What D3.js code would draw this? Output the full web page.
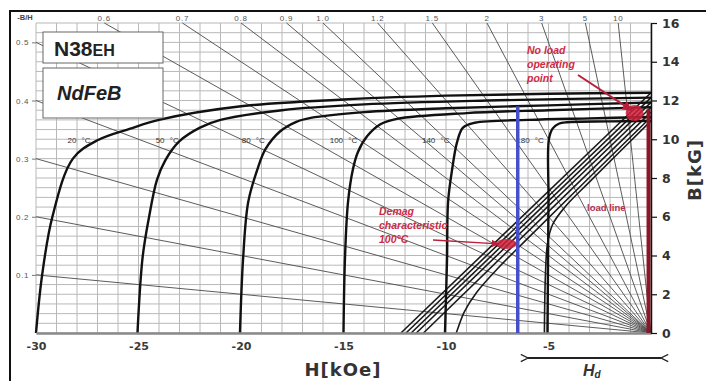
<!DOCTYPE html>
<html><head><meta charset="utf-8">
<script src="https://cdn.jsdelivr.net/npm/d3@7"></script>
<style>
body{margin:0;background:#fff}
svg{display:block}
</style>
</head><body>
<svg id="c" width="706" height="381"></svg>
<script>
// ---- Data -------------------------------------------------------------
const hTicks = [-30, -25, -20, -15, -10, -5];
const bTicks = [0, 2, 4, 6, 8, 10, 12, 14, 16];
const permLeft = [0.1, 0.2, 0.3, 0.4, 0.5];            // -B/H lines ending on the left edge
const permTop = [0.6, 0.7, 0.8, 0.9, 1.0, 1.2, 1.5, 2, 3, 5, 10]; // -B/H lines ending on the top edge
const permTopLabels = ["0.6", "0.7", "0.8", "0.9", "1.0", "1.2", "1.5", "2", "3", "5", "10"];
const tempLabels = ["20 °C", "50 °C", "80 °C", "100 °C", "140 °C", "180 °C"];

// intrinsic curves J(H), [H kOe, B kG]
const j20  = [[-30,0],[-29.7,3.0],[-29.2,6.0],[-28.2,9.0],[-27.0,9.95],[-25.4,10.55],[-24,11.0],[-20,11.7],[-15,12.05],[-10,12.25],[-5,12.35],[0,12.4]];
const j50  = [[-25.05,0],[-24.8,3.9],[-24.5,5.9],[-24.1,7.9],[-23.7,8.9],[-23.0,9.9],[-22.0,10.6],[-21.0,11.0],[-18,11.5],[-14,11.8],[-8,12.0],[0,12.15]];
const j80  = [[-20.05,0],[-19.9,3.8],[-19.65,6.75],[-19.2,8.45],[-18.8,9.5],[-18.1,10.4],[-17.3,10.9],[-16.6,11.1],[-14,11.4],[-10,11.6],[-5,11.75],[0,11.9]];
const j100 = [[-15.0,0],[-14.93,3.8],[-14.78,6.75],[-14.54,8.45],[-14.3,9.33],[-13.85,10.15],[-13.2,10.77],[-12.4,11.05],[-9,11.35],[-5,11.5],[0,11.65]];
const j140 = [[-10.05,0],[-9.95,3.8],[-9.9,6.75],[-9.7,8.45],[-9.46,9.85],[-9.17,10.6],[-8.6,10.85],[-6,11.0],[-3,11.08],[0,11.15]];
const j180 = [[-5.05,0],[-5.0,6.9],[-4.98,10.0],[-4.8,10.55],[-4.5,10.8],[-4.1,10.88],[-2,10.92],[0,10.95]];

// normal curves B(H)
const b1 = [[-12.2,0],[0,12.4]];
const b2 = [[-11.95,0],[0,12.15]];
const b3 = [[-11.7,0],[0,11.9]];
const b4 = [[-11.45,0],[0,11.65]];
const b5 = [[-11.1,0],[0,11.4]];
const b6 = [[-9.5,0],[-9.4,0.3],[-9.1,1.1],[-8.5,2.1],[-7.5,3.3],[-6,4.9],[0,11.15]];
const b7 = [[-5.2,0],[-5.15,3.0],[-5.05,4.6],[-4.8,5.6],[-4.2,6.5],[-3,7.8],[0,10.95]];

// working line (blue) and operating points
const workH = -6.5, workTopB = 11.7;
const loadLineH = -0.12, loadLineTopB = 11.55;
const noLoadPoint = [-0.8, 11.35];
const demagPoint = [-7.05, 4.6];

// ---- Layout -----------------------------------------------------------
const svg = d3.select("#c");
const x = d3.scaleLinear().domain([-30, 0]).range([36, 651]);
const y = d3.scaleLinear().domain([0, 16]).range([333, 23]);
const yP = d3.scaleLinear().domain([0, 16 / 30]).range([333, 23]);
const line = d3.line().x(d => x(d[0])).y(d => y(d[1])).curve(d3.curveCatmullRom.alpha(0.5));

const SANS = "'Liberation Sans', Arial, sans-serif";
const BOLD = "'DejaVu Sans', Verdana, sans-serif";

// outer frame
svg.append("rect").attr("x", 10).attr("y", 11).attr("width", 710).attr("height", 390)
  .attr("fill", "none").attr("stroke", "#111").attr("stroke-width", 2);

// grid
const grid = svg.append("g").attr("stroke", "#b8b8b8").attr("stroke-width", 1);
grid.selectAll("line.v").data(d3.range(-30, 0.001, 1)).join("line")
  .attr("x1", d => x(d)).attr("x2", d => x(d)).attr("y1", y(0)).attr("y2", y(16));
grid.selectAll("line.h").data(d3.range(0, 16.001, 0.5)).join("line")
  .attr("y1", d => y(d)).attr("y2", d => y(d)).attr("x1", x(-30)).attr("x2", x(0));

// permeance (-B/H) lines from the origin
const perm = permLeft.concat(permTop);
svg.append("g").attr("stroke", "#4a4a4a").attr("stroke-width", 0.9)
  .selectAll("line").data(perm).join("line")
  .attr("x1", x(0)).attr("y1", y(0))
  .attr("x2", p => 30 * p <= 16 ? x(-30) : x(-16 / p))
  .attr("y2", p => 30 * p <= 16 ? y(30 * p) : y(16));

// top labels of permeance lines
svg.append("g").selectAll("text").data(permTop).join("text")
  .attr("x", p => x(-16 / p)).attr("y", 21)
  .attr("text-anchor", "middle").attr("font-family", SANS).attr("font-size", 8)
  .attr("letter-spacing", 0.8).attr("fill", "#555")
  .text((p, i) => permTopLabels[i]);
svg.append("text").attr("x", 25).attr("y", 20).attr("text-anchor", "middle")
  .attr("font-family", SANS).attr("font-size", 7.5).attr("font-weight", "bold").attr("fill", "#444").text("-B/H");

// left axis (-B/H at H = -30)
const leftAxis = svg.append("g").attr("transform", `translate(${x(-30)},0)`)
  .call(d3.axisLeft(yP).tickValues(permLeft).tickSize(4).tickPadding(3).tickFormat(d3.format(".1f")));
leftAxis.select(".domain").remove();
leftAxis.selectAll(".tick line").attr("stroke", "#777");
leftAxis.selectAll("text").attr("font-family", SANS).attr("font-size", 8).attr("fill", "#555").attr("letter-spacing", 0.6);

// temperature labels
const tempLabelH = [-27.9, -23.6, -19.4, -15.0, -10.5, -5.9];
svg.append("g").selectAll("text").data(tempLabels).join("text")
  .attr("x", (t, i) => x(tempLabelH[i])).attr("y", y(9.95) + 3)
  .attr("text-anchor", "middle").attr("font-family", SANS).attr("font-size", 8)
  .attr("word-spacing", 3).attr("fill", "#333").text(t => t);

// normal curves
svg.append("g").attr("fill", "none").attr("stroke", "#1a1a1a").attr("stroke-width", 1.6)
  .selectAll("path").data([b1, b2, b3, b4, b5, b6, b7]).join("path").attr("d", line);

// intrinsic curves
svg.append("g").attr("fill", "none").attr("stroke", "#111").attr("stroke-width", 2.4)
  .selectAll("path").data([j20, j50, j80, j100, j140, j180]).join("path").attr("d", line);

// bottom axis
const bottomAxis = svg.append("g").attr("transform", `translate(0,${y(0)})`)
  .call(d3.axisBottom(x).tickValues(hTicks).tickSize(0).tickPadding(9).tickFormat(d => String(d)));
bottomAxis.select(".domain").attr("stroke", "#8a8a8a").attr("stroke-width", 2.5);
bottomAxis.selectAll("text").attr("font-family", BOLD).attr("font-size", 11).attr("font-weight", "bold").attr("fill", "#3a3a3a");

// working line
svg.append("line").attr("x1", x(workH)).attr("x2", x(workH)).attr("y1", y(0)).attr("y2", y(workTopB))
  .attr("stroke", "#4550c8").attr("stroke-width", 3.5);

// load line at H ~ 0
svg.append("line").attr("x1", x(loadLineH)).attr("x2", x(loadLineH)).attr("y1", y(0)).attr("y2", y(loadLineTopB))
  .attr("stroke", "#8e1426").attr("stroke-width", 4);

// right axis
const rightAxis = svg.append("g").attr("transform", `translate(${x(0)},0)`)
  .call(d3.axisRight(y).tickValues(bTicks).tickSize(6).tickSizeOuter(0).tickPadding(5));
rightAxis.select(".domain").attr("stroke", "#111").attr("stroke-width", 1.5);
rightAxis.selectAll(".tick line").attr("stroke", "#111").attr("stroke-width", 1.2);
rightAxis.selectAll("text").attr("font-family", BOLD).attr("font-size", 12.5).attr("font-weight", "bold").attr("fill", "#333");

// axis titles
svg.append("text").attr("x", 343).attr("y", 376).attr("text-anchor", "middle")
  .attr("font-family", BOLD).attr("font-size", 18).attr("font-weight", "bold").attr("letter-spacing", 1)
  .attr("fill", "#333").text("H[kOe]");
svg.append("text").attr("transform", "translate(701,170) rotate(-90)").attr("text-anchor", "middle")
  .attr("font-family", BOLD).attr("font-size", 18).attr("font-weight", "bold").attr("letter-spacing", 1)
  .attr("fill", "#333").text("B[kG]");

// markers
const defs = svg.append("defs");
defs.append("marker").attr("id", "redHead").attr("viewBox", "0 0 10 10").attr("refX", 9).attr("refY", 5)
  .attr("markerWidth", 5).attr("markerHeight", 5).attr("orient", "auto")
  .append("path").attr("d", "M0,0 L10,5 L0,10 z").attr("fill", "#b8203a");
defs.append("marker").attr("id", "openHead").attr("viewBox", "0 0 10 10").attr("refX", 1).attr("refY", 5)
  .attr("markerWidth", 5).attr("markerHeight", 5).attr("orient", "auto-start-reverse").attr("markerUnits", "strokeWidth")
  .append("path").attr("d", "M9,1 L1,5 L9,9").attr("fill", "none").attr("stroke", "#222").attr("stroke-width", 1.4);

// operating points
svg.append("ellipse").attr("cx", x(noLoadPoint[0])).attr("cy", y(noLoadPoint[1]))
  .attr("rx", 9).attr("ry", 8).attr("fill", "#d0203a").attr("opacity", 0.85);
svg.append("ellipse").attr("cx", x(demagPoint[0])).attr("cy", y(demagPoint[1]))
  .attr("rx", 10).attr("ry", 5).attr("fill", "#d0203a").attr("opacity", 0.85);

// annotations
const red = "#d02a45";
const noLoad = svg.append("text").attr("font-family", SANS).attr("font-size", 10.5)
  .attr("font-style", "italic").attr("font-weight", "bold").attr("fill", red);
["No load", "operating", "point"].forEach((t, i) =>
  noLoad.append("tspan").attr("x", 527).attr("y", 54 + i * 14).text(t));
svg.append("line").attr("x1", 578).attr("y1", 75).attr("x2", x(noLoadPoint[0]) - 3).attr("y2", y(noLoadPoint[1]) - 3)
  .attr("stroke", "#b8203a").attr("stroke-width", 2).attr("marker-end", "url(#redHead)");

const demag = svg.append("text").attr("font-family", SANS).attr("font-size", 10.5)
  .attr("font-style", "italic").attr("font-weight", "bold").attr("fill", red);
["Demag", "characteristic", "100°C"].forEach((t, i) =>
  demag.append("tspan").attr("x", 379).attr("y", 215 + i * 14).text(t));
svg.append("line").attr("x1", 433).attr("y1", 240).attr("x2", x(demagPoint[0]) - 8).attr("y2", y(demagPoint[1]))
  .attr("stroke", "#b8203a").attr("stroke-width", 1.5).attr("marker-end", "url(#redHead)");

svg.append("text").attr("x", 587).attr("y", 211).attr("font-family", SANS).attr("font-size", 9.5)
  .attr("font-weight", "bold").attr("fill", "#b03050").text("load line");

// H_d span
svg.append("line").attr("x1", 528).attr("x2", 661).attr("y1", 358).attr("y2", 358)
  .attr("stroke", "#222").attr("stroke-width", 1.8)
  .attr("marker-start", "url(#openHead)").attr("marker-end", "url(#openHead)");
const hd = svg.append("text").attr("x", 583).attr("y", 376).attr("font-family", SANS)
  .attr("font-style", "italic").attr("font-weight", "bold").attr("fill", "#333");
hd.append("tspan").attr("font-size", 16).text("H");
hd.append("tspan").attr("font-size", 10).attr("dy", 2).text("d");

// title boxes
svg.append("rect").attr("x", 43).attr("y", 32).attr("width", 120).attr("height", 31)
  .attr("fill", "#fff").attr("stroke", "#666").attr("stroke-width", 1);
const t1 = svg.append("text").attr("x", 54).attr("y", 56).attr("font-family", SANS).attr("font-weight", "bold").attr("fill", "#222");
t1.append("tspan").attr("font-size", 21).text("N38");
t1.append("tspan").attr("font-size", 16).text("EH");
svg.append("rect").attr("x", 43).attr("y", 68).attr("width", 120).attr("height", 50)
  .attr("fill", "#fff").attr("stroke", "#666").attr("stroke-width", 1);
svg.append("text").attr("x", 57).attr("y", 100).attr("font-family", SANS).attr("font-size", 20)
  .attr("font-style", "italic").attr("font-weight", "bold").attr("fill", "#222").text("NdFeB");
</script>
</body></html>
